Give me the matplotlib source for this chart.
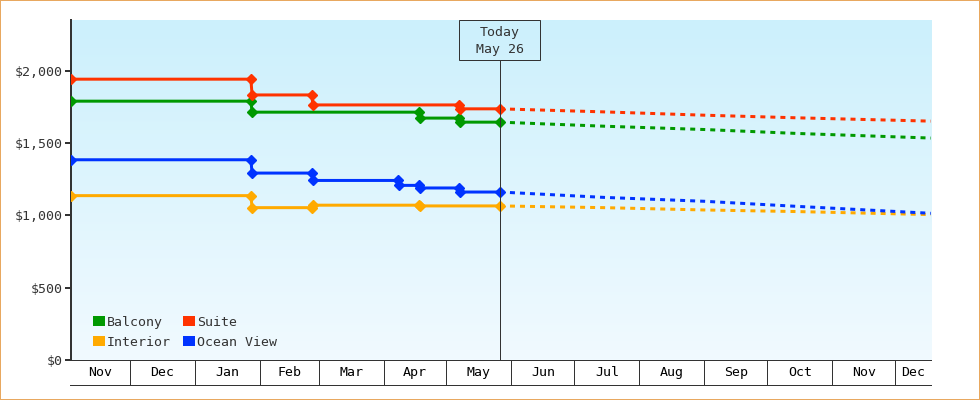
import matplotlib
matplotlib.use("Agg")
import matplotlib.pyplot as plt
import matplotlib.dates as mdates
import matplotlib.transforms as mtransforms
from matplotlib.patches import Patch, Rectangle
import numpy as np
import pandas as pd

plt.rcParams['font.family'] = ['DejaVu Sans Mono']

# ---------------- data ----------------
series_names = ["Balcony", "Interior", "Suite", "Ocean View"]
series_colors = ["#009900", "#ffaa00", "#ff3300", "#0033ff"]

balcony_dates = ["2024-11-03 00:00", "2025-01-27 18:00", "2025-01-28 08:00", "2025-04-17 17:00",
                 "2025-04-18 07:00", "2025-05-06 19:00", "2025-05-07 09:00", "2025-05-26 12:00"]
balcony_prices = [1789, 1789, 1713, 1713, 1672, 1672, 1644, 1644]

interior_dates = ["2024-11-03 00:00", "2025-01-27 18:00", "2025-01-28 08:00", "2025-02-25 18:00",
                  "2025-02-26 08:00", "2025-04-17 17:00", "2025-04-18 07:00", "2025-05-26 12:00"]
interior_prices = [1136, 1136, 1053, 1053, 1070, 1070, 1065, 1065]

suite_dates = ["2024-11-03 00:00", "2025-01-27 18:00", "2025-01-28 08:00", "2025-02-25 18:00",
               "2025-02-26 08:00", "2025-05-06 19:00", "2025-05-07 09:00", "2025-05-26 12:00"]
suite_prices = [1941, 1941, 1832, 1832, 1763, 1763, 1736, 1736]

ocean_dates = ["2024-11-03 00:00", "2025-01-27 18:00", "2025-01-28 08:00", "2025-02-25 18:00",
               "2025-02-26 08:00", "2025-04-07 17:00", "2025-04-08 07:00", "2025-04-17 17:00",
               "2025-04-18 07:00", "2025-05-06 19:00", "2025-05-07 09:00", "2025-05-26 12:00"]
ocean_prices = [1384, 1384, 1292, 1292, 1241, 1241, 1207, 1207, 1189, 1189, 1161, 1161]

forecast_dates = ["2025-05-26 12:00", "2025-07-15 00:00", "2025-09-01 00:00",
                  "2025-10-15 00:00", "2025-12-18 00:00"]
balcony_forecast = [1644, 1616, 1593, 1566, 1534]
interior_forecast = [1065, 1053, 1037, 1026, 1005]
suite_forecast = [1736, 1715, 1692, 1674, 1651]
ocean_forecast = [1161, 1124, 1097, 1062, 1014]

today_date = "2025-05-26 12:00"
today_label = "Today\nMay 26"

x_start = "2024-11-03"
x_end = "2025-12-18"
month_starts = ["2024-11-01", "2024-12-01", "2025-01-01", "2025-02-01", "2025-03-01",
                "2025-04-01", "2025-05-01", "2025-06-01", "2025-07-01", "2025-08-01",
                "2025-09-01", "2025-10-01", "2025-11-01", "2025-12-01", "2026-01-01"]
month_labels = ["Nov", "Dec", "Jan", "Feb", "Mar", "Apr", "May", "Jun", "Jul", "Aug",
                "Sep", "Oct", "Nov", "Dec"]

y_ticks = [0, 500, 1000, 1500, 2000]
y_tick_labels = ["$0", "$500", "$1,000", "$1,500", "$2,000"]
y_max = 2350


def to_dt(lst):
    return pd.to_datetime(lst, format="ISO8601")


# ---------------- figure ----------------
W, H = 980, 400
fig = plt.figure(figsize=(W / 100, H / 100), dpi=100)
fig.patch.set_facecolor("white")
ax = fig.add_axes([71 / W, 40 / H, 860 / W, 340 / H])
ax.set_facecolor("white")

# gradient background
grad = np.linspace(0, 1, 256).reshape(-1, 1)
top = np.array([204, 240, 252]) / 255.0
bot = np.array([241, 250, 255]) / 255.0
img = top[None, None, :] * (1 - grad[:, :, None]) + bot[None, None, :] * grad[:, :, None]
ax.imshow(img, extent=[0, 1, 0, 1], transform=ax.transAxes, aspect="auto", zorder=0)

dk = "#333333"
lw_line = 3 * 0.72

hist = [
    (balcony_dates, balcony_prices, balcony_forecast),
    (interior_dates, interior_prices, interior_forecast),
    (suite_dates, suite_prices, suite_forecast),
    (ocean_dates, ocean_prices, ocean_forecast),
]
fc_dates = to_dt(forecast_dates)
for (d, v, fc), c in zip(hist, series_colors):
    ax.plot(to_dt(d), v, color=c, lw=lw_line, marker="D", ms=4.7,
            mec=c, mfc=c, zorder=4, solid_joinstyle="miter")
    ax.plot(fc_dates, fc, color=c, lw=lw_line, dashes=(1.67, 1.67), zorder=3,
            dash_capstyle="butt")

xmin = pd.Timestamp(x_start)
xmax = pd.Timestamp(x_end)
ax.set_xlim(xmin, xmax)
ax.set_ylim(0, y_max)

# spines
for s in ["top", "right"]:
    ax.spines[s].set_visible(False)
ax.spines["left"].set_color(dk)
ax.spines["left"].set_linewidth(2 * 0.72)
ax.spines["bottom"].set_color(dk)
ax.spines["bottom"].set_linewidth(1 * 0.72)

ax.set_yticks(y_ticks)
ax.set_yticklabels(y_tick_labels)
ax.tick_params(axis="y", length=4 * 0.72 * 1.4, width=2 * 0.72, color=dk,
               labelcolor=dk, labelsize=9.5, pad=2)
ax.set_xticks([])

# month band below axis
band_h = 25 / 340
blend = mtransforms.blended_transform_factory(ax.transData, ax.transAxes)
ms = to_dt(month_starts)
for b in ms[1:-1]:
    ax.plot([b, b], [0, -band_h], transform=blend, clip_on=False, color=dk, lw=0.72)
ax.plot([-0.0012, 1], [-band_h, -band_h], transform=ax.transAxes, clip_on=False,
        color=dk, lw=0.72)
for i, lab in enumerate(month_labels):
    a = max(ms[i], xmin)
    b = min(ms[i + 1], xmax)
    mid = a + (b - a) / 2
    ax.text(mid, -band_h / 2, lab, transform=blend, ha="center", va="center",
            fontsize=9.5, color="black", clip_on=False)

# today marker
today = pd.Timestamp(today_date)
box_bottom = (360 - 60) / 340
ax.plot([today, today], [0, box_bottom], transform=blend, color=dk, lw=0.72, zorder=5)
tnum = mdates.date2num(today)
tfrac = (tnum - mdates.date2num(xmin)) / (mdates.date2num(xmax) - mdates.date2num(xmin))
bw = 81 / 860
ax.add_patch(Rectangle((tfrac - bw / 2, box_bottom), bw, 1 - box_bottom,
                       transform=ax.transAxes, fill=False, ec=dk, lw=0.72,
                       clip_on=False, zorder=6))
ax.text(tfrac, box_bottom + (1 - box_bottom) / 2 - 0.003, today_label, transform=ax.transAxes,
        ha="center", va="center", fontsize=9.5, color=dk, linespacing=1.35, zorder=7)

# legend
handles = [Patch(facecolor=c, edgecolor="none") for c in series_colors]
leg = ax.legend(handles, series_names, ncol=2, loc="lower left",
                bbox_to_anchor=(0.0137, 0.002), frameon=False, fontsize=9.5,
                handlelength=0.85, handleheight=0.85, handletextpad=0.2,
                labelspacing=0.55, columnspacing=0.92, borderpad=0.3)
for t in leg.get_texts():
    t.set_color(dk)

# outer border
fig.add_artist(Rectangle((0, 0), 1, 1, transform=fig.transFigure, fill=False,
                         ec="#e8a860", lw=2 * 0.72, zorder=10))

fig.savefig("out.png", dpi=100)
